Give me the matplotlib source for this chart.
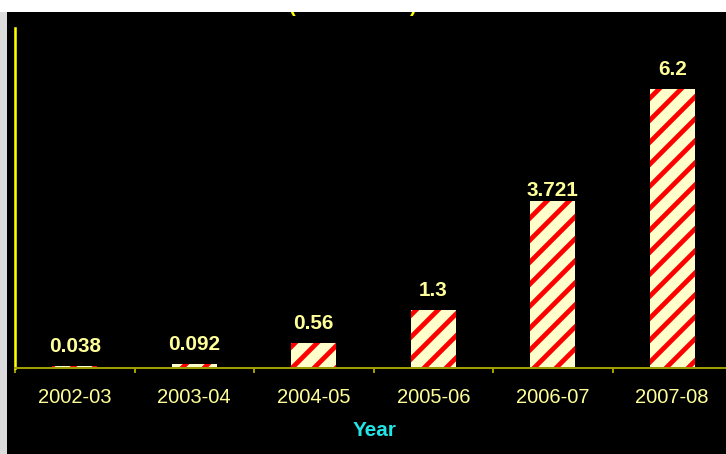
import numpy as np
import matplotlib.pyplot as plt
from matplotlib.patches import Rectangle

# 데이터
years = ['2002-03', '2003-04', '2004-05', '2005-06', '2006-07', '2007-08']
values = [0.038, 0.092, 0.56, 1.3, 3.721, 6.2]
value_labels = ['0.038', '0.092', '0.56', '1.3', '3.721', '6.2']
title_text = '(Rs. in Crore)'

DPI = 132
W, H = 726, 454

plt.rcParams['font.family'] = ['Liberation Sans', 'DejaVu Sans']
plt.rcParams['hatch.linewidth'] = 2.6

fig = plt.figure(figsize=(W / DPI, H / DPI), dpi=DPI, facecolor='black')
ax = fig.add_axes([15 / W, 1 - 368 / H, 717 / W, 340 / H])
ax.set_facecolor('black')

x = np.arange(len(years))
bars = ax.bar(x, values, width=0.38, color='#FFFFCC', edgecolor='#FF0000',
              linewidth=0, hatch='//', zorder=2)

# 막대 위 값 표시 (3.721만 막대에 바짝 붙어 있음)
offsets = [10, 10, 10, 10, 1, 10]
for xi, v, lab, off in zip(x, values, value_labels, offsets):
    ax.annotate(lab, (xi, v), xytext=(0, off), textcoords='offset pixels',
                ha='center', va='bottom', fontsize=11.3, fontweight='bold',
                color='#FFFF99')

ax.set_xlim(-0.5, 5.5)
ax.set_ylim(0, 7.56)

ax.set_xticks(x)
ax.set_xticklabels(years)
ax.set_xticks(np.arange(-0.5, 6.0, 1.0), minor=True)
ax.tick_params(axis='x', which='major', length=0, pad=11, labelsize=11,
               labelcolor='#FFFF99')
ax.tick_params(axis='x', which='minor', length=2.8, width=1.1, color='#A09C00',
               direction='out')
ax.set_yticks([])

for side in ['top', 'right']:
    ax.spines[side].set_visible(False)
ax.spines['bottom'].set_color('#A09C00')
ax.spines['bottom'].set_linewidth(1.1)
ax.spines['left'].set_color('#FFFF00')
ax.spines['left'].set_linewidth(1.4)

fig.text(375 / W, 1 - 431 / H, 'Year', ha='center', va='center',
         fontsize=11.3, fontweight='bold', color='#22E6E6')

# 위쪽에서 잘린 제목
fig.text(353 / W, 1 - 12 / H, title_text, ha='center', va='baseline',
         fontsize=11, fontweight='bold', color='#FFFF00')

# 위쪽 흰 띠와 왼쪽 회색 띠
fig.add_artist(Rectangle((0, 1 - 12 / H), 1, 12 / H, transform=fig.transFigure,
                         facecolor='white', edgecolor='none', zorder=10))
fig.add_artist(Rectangle((0, 0), 7 / W, 1 - 12 / H, transform=fig.transFigure,
                         facecolor='#DCDCDC', edgecolor='none', zorder=10))

fig.savefig('out.png', dpi=DPI, facecolor='black')
